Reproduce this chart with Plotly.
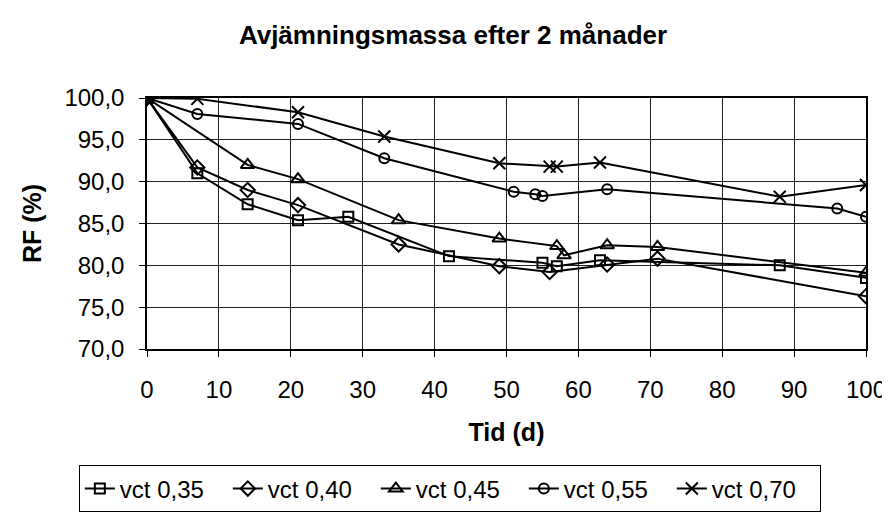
import plotly.graph_objects as go

# Data (Tid in days, RF in %)
x_035 = [0, 7, 14, 21, 28, 42, 55, 57, 63, 88, 100]
y_035 = [100.0, 91.0, 87.3, 85.4, 85.8, 81.1, 80.3, 79.9, 80.6, 80.0, 78.5]

x_040 = [0, 7, 14, 21, 35, 49, 56, 64, 71, 100]
y_040 = [100.0, 91.7, 89.0, 87.2, 82.5, 79.9, 79.2, 80.1, 80.8, 76.3]

x_045 = [0, 14, 21, 35, 49, 57, 58, 64, 71, 100]
y_045 = [100.0, 92.0, 90.3, 85.4, 83.2, 82.3, 81.2, 82.4, 82.2, 79.1]

x_055 = [0, 7, 21, 33, 51, 54, 55, 64, 96, 100]
y_055 = [100.0, 98.1, 96.9, 92.8, 88.8, 88.5, 88.3, 89.1, 86.8, 85.8]

x_070 = [0, 7, 21, 33, 49, 56, 57, 63, 88, 100]
y_070 = [100.0, 99.9, 98.3, 95.4, 92.2, 91.8, 91.8, 92.3, 88.2, 89.6]

names = ["vct 0,35", "vct 0,40", "vct 0,45", "vct 0,55", "vct 0,70"]
series = [(x_035, y_035), (x_040, y_040), (x_045, y_045), (x_055, y_055), (x_070, y_070)]
symbols = ["square-open", "diamond-open", "triangle-up-open", "circle-open", "x-thin-open"]
sizes = [10, 11, 12, 10, 12]

FONT = "Arial, Liberation Sans, sans-serif"

fig = go.Figure()

for (xs, ys), name, sym, sz in zip(series, names, symbols, sizes):
    fig.add_trace(go.Scatter(
        x=xs, y=ys, name=name,
        mode="lines+markers",
        line=dict(color="black", width=2),
        marker=dict(symbol=sym, size=sz, color="black",
                    line=dict(color="black", width=2)),
    ))

fig.update_layout(
    width=890, height=517,
    margin=dict(l=139, r=23, t=90, b=162),
    paper_bgcolor="white", plot_bgcolor="white",
    separators=",.",
    font=dict(family=FONT, size=24, color="black"),
    title=dict(text="<b>Avjämningsmassa efter 2 månader</b>",
               x=0.5, xref="container", xanchor="center",
               y=1 - 27 / 517, yref="container", yanchor="middle",
               font=dict(size=26)),
    # legend box sits below the axis title, bottom edge runs off the page
    legend=dict(orientation="h", x=-0.0948, xanchor="left",
                y=-0.464, yanchor="top",
                bordercolor="black", borderwidth=1,
                font=dict(size=24), entrywidth=103,
                itemwidth=30, tracegroupgap=0),
    showlegend=True,
)

fig.update_xaxes(
    range=[0, 100], dtick=10, tick0=0,
    showgrid=True, gridcolor="#222", gridwidth=1,
    showline=True, linecolor="black", linewidth=1.5, mirror=True,
    ticks="outside", ticklen=6, tickcolor="black", ticklabelstandoff=12,
    zeroline=False,
    title=dict(text="<b>Tid (d)</b>", font=dict(size=25), standoff=22),
)
fig.update_yaxes(
    range=[70, 100], dtick=5, tickformat=".1f",
    showgrid=True, gridcolor="#222", gridwidth=1,
    showline=True, linecolor="black", linewidth=1.5, mirror=True,
    ticks="outside", ticklen=6, tickcolor="black", ticklabelstandoff=10,
    zeroline=False,
    title=dict(text="<b>RF (%)</b>", font=dict(size=25), standoff=16),
)

fig.write_html("out.html")
